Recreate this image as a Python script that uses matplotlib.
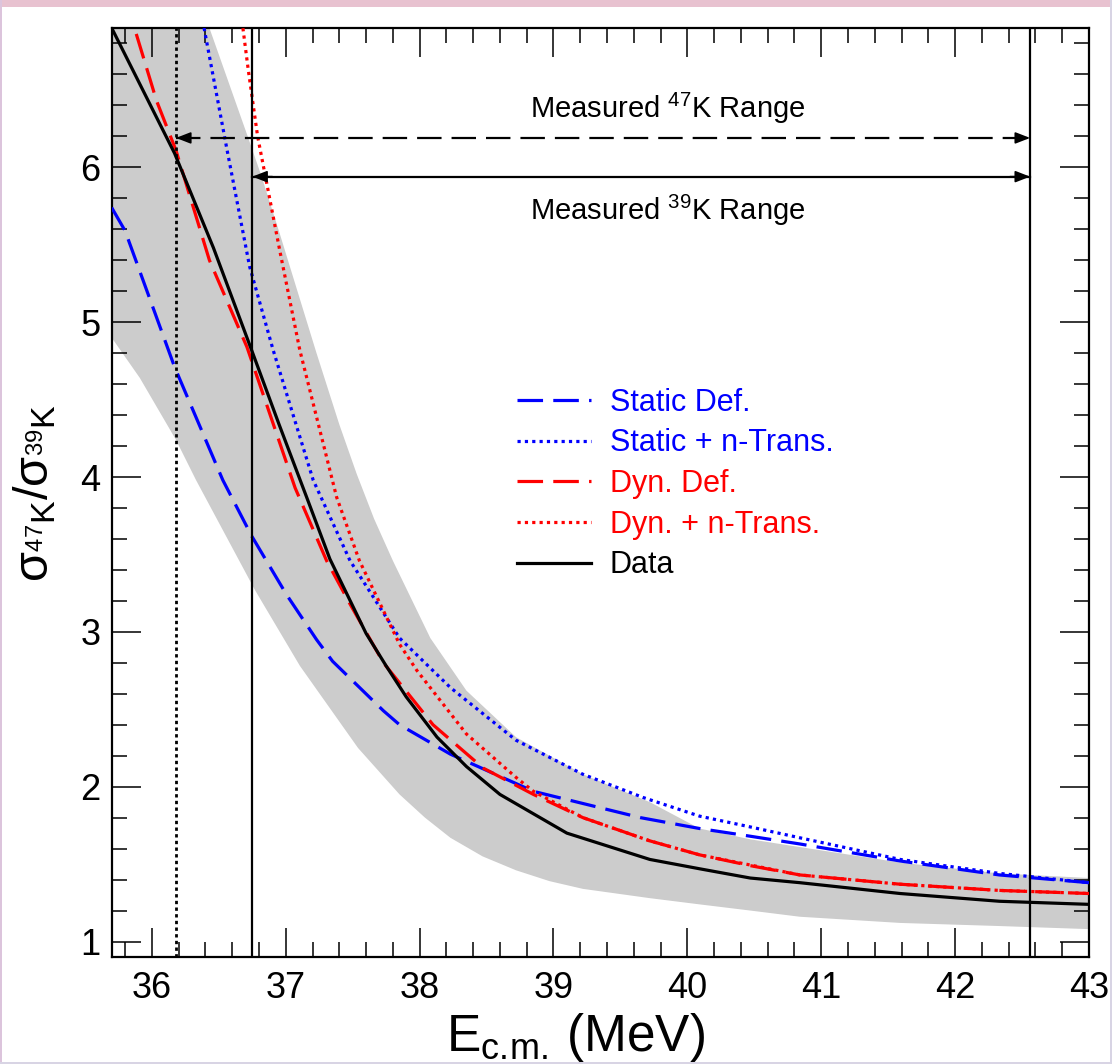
import matplotlib
matplotlib.use("Agg")
import matplotlib.pyplot as plt
import numpy as np
from matplotlib.patches import Rectangle

plt.rcParams['font.family'] = ['Liberation Sans', 'DejaVu Sans']
plt.rcParams['mathtext.fontset'] = 'custom'
plt.rcParams['mathtext.rm'] = 'Liberation Sans'
plt.rcParams['mathtext.it'] = 'Liberation Sans:italic'
plt.rcParams['mathtext.bf'] = 'Liberation Sans:bold'

# ---------------- data ----------------
data_x = [35.70, 36.17, 36.46, 36.745, 36.95, 37.156, 37.33, 37.60, 37.75, 37.90,
          38.13, 38.35, 38.60, 39.10, 39.72, 40.09, 40.47, 40.84, 41.59, 42.33, 43.0]
data_y = [6.90, 6.09, 5.48, 4.82, 4.34, 3.87, 3.47, 2.99, 2.78, 2.58,
          2.32, 2.13, 1.95, 1.70, 1.53, 1.47, 1.41, 1.38, 1.31, 1.26, 1.24]

band_hi_x = [35.70, 36.10, 36.43, 36.72, 36.82, 36.956, 37.23, 37.40, 37.53, 37.66, 37.80,
             38.08, 38.35, 38.72, 39.22, 39.72, 40.09, 40.47, 40.84, 41.59, 42.33, 43.0]
band_hi_y = [8.80, 7.75, 6.90, 6.19, 5.94, 5.57, 4.80, 4.34, 4.02, 3.73, 3.46,
             2.96, 2.62, 2.32, 2.08, 1.90, 1.73, 1.66, 1.61, 1.51, 1.44, 1.41]
band_lo_x = [35.70, 35.91, 36.18, 36.33, 36.77, 37.106, 37.54, 37.85, 38.04, 38.23, 38.47,
             38.72, 38.97, 39.22, 39.72, 40.09, 40.47, 40.84, 41.59, 42.33, 43.0]
band_lo_y = [4.90, 4.64, 4.24, 3.98, 3.27, 2.78, 2.25, 1.95, 1.80, 1.67, 1.55,
             1.46, 1.39, 1.34, 1.28, 1.24, 1.20, 1.16, 1.12, 1.10, 1.08]

static_x = [35.70, 35.80, 36.17, 36.53, 36.745, 37.006, 37.23, 37.35, 37.73, 37.85, 38.23,
            38.85, 39.65, 40.09, 40.47, 40.84, 41.59, 42.33, 43.0]
static_y = [5.74, 5.59, 4.71, 3.98, 3.62, 3.24, 2.95, 2.81, 2.49, 2.40, 2.21,
            1.97, 1.80, 1.73, 1.68, 1.63, 1.52, 1.43, 1.38]

static_nt_x = [36.33, 36.39, 36.56, 36.73, 36.906, 37.205, 37.48, 37.85, 38.23, 38.72,
               39.22, 39.67, 40.09, 40.47, 40.84, 41.59, 42.33, 43.0]
static_nt_y = [7.20, 6.90, 6.12, 5.36, 4.82, 3.98, 3.46, 2.96, 2.64, 2.30,
               2.08, 1.93, 1.81, 1.74, 1.67, 1.53, 1.44, 1.38]

dyn_x = [35.80, 35.87, 36.035, 36.18, 36.43, 36.71, 37.07, 37.305, 37.48, 37.73, 38.10,
         38.475, 38.85, 39.22, 39.72, 40.09, 40.47, 40.84, 41.59, 42.33, 43.0]
dyn_y = [7.20, 6.90, 6.43, 6.11, 5.40, 4.84, 3.93, 3.46, 3.18, 2.80, 2.40,
         2.12, 1.95, 1.80, 1.65, 1.56, 1.49, 1.43, 1.37, 1.33, 1.31]

dyn_nt_x = [36.64, 36.68, 36.72, 36.79, 36.956, 37.105, 37.38, 37.55, 37.85, 37.98,
            38.35, 38.72, 38.85, 39.22, 39.72, 40.09, 40.84, 41.59, 42.33, 43.0]
dyn_nt_y = [7.20, 6.90, 6.63, 6.20, 5.46, 4.82, 3.87, 3.46, 2.92, 2.75,
            2.34, 2.06, 1.97, 1.80, 1.65, 1.56, 1.43, 1.37, 1.33, 1.31]

thr_47 = 36.18     # dotted vertical line (47K range start)
thr_39 = 36.75     # solid vertical line (39K range start)
range_end = 42.56  # solid vertical line (range end)
y_arrow_47 = 6.19
y_arrow_39 = 5.94

labels = ["Static Def.", "Static + n-Trans.", "Dyn. Def.", "Dyn. + n-Trans.", "Data"]

# ---------------- figure ----------------
fig = plt.figure(figsize=(11.12, 10.64), dpi=100)
fig.patches.append(Rectangle((0, 1 - 7 / 1064), 1, 7 / 1064, transform=fig.transFigure,
                             facecolor='#e8c2d0', edgecolor='none', zorder=0))
fig.patches.append(Rectangle((0, 0), 2 / 1112, 1, transform=fig.transFigure,
                             facecolor='#dcc4dc', edgecolor='none', zorder=0))
fig.patches.append(Rectangle((0, 0), 1, 2 / 1064, transform=fig.transFigure,
                             facecolor='#d8d4e4', edgecolor='none', zorder=0))
fig.patches.append(Rectangle((1 - 2 / 1112, 0), 2 / 1112, 1, transform=fig.transFigure,
                             facecolor='#d8d4e4', edgecolor='none', zorder=0))

ax = fig.add_axes([111.7 / 1112, 1 - 957 / 1064, (1089 - 111.7) / 1112, (957 - 28) / 1064])
ax.set_xlim(35.7, 43.0)
ax.set_ylim(0.9, 6.9)

# band
poly_x = list(band_hi_x) + list(band_lo_x[::-1])
poly_y = list(band_hi_y) + list(band_lo_y[::-1])
ax.fill(poly_x, poly_y, color='#cccccc', lw=0, zorder=1)

lw = 2.3
dash = (8, 3.2)
dot = (1.0, 1.3)
common = dict(lw=lw, solid_joinstyle='round', dash_joinstyle='round')
l1, = ax.plot(static_x, static_y, color='#0000ff', dashes=dash, zorder=3, **common)
l2, = ax.plot(static_nt_x, static_nt_y, color='#0000ff', dashes=dot, zorder=3, **common)
l3, = ax.plot(dyn_x, dyn_y, color='#ff0000', dashes=dash, zorder=3, **common)
l4, = ax.plot(dyn_nt_x, dyn_nt_y, color='#ff0000', dashes=dot, zorder=3, **common)
l5, = ax.plot(data_x, data_y, color='black', zorder=4, **common)

# vertical lines
ax.axvline(thr_47, color='black', lw=2.0, dashes=(1.2, 1.2), zorder=5)
ax.axvline(thr_39, color='black', lw=1.6, zorder=5)
ax.axvline(range_end, color='black', lw=1.6, zorder=5)

# range arrows
ax.plot([thr_47, range_end], [y_arrow_47, y_arrow_47], color='black', lw=1.6,
        dashes=(11, 4.5), zorder=5)
ax.plot([thr_39, range_end], [y_arrow_39, y_arrow_39], color='black', lw=1.6, zorder=5)
ap = dict(arrowstyle='-|>,head_length=0.9,head_width=0.35', color='black', lw=1.2,
          shrinkA=0, shrinkB=0)
for (xa, xb, yy) in [(thr_47 + 0.15, thr_47, y_arrow_47), (range_end - 0.15, range_end, y_arrow_47),
                     (thr_39 + 0.15, thr_39, y_arrow_39), (range_end - 0.15, range_end, y_arrow_39)]:
    ax.annotate('', xy=(xb, yy), xytext=(xa, yy), arrowprops=ap, zorder=6)

ax.text(39.85, 6.38, r'Measured $^{47}$K Range', fontsize=21, ha='center', va='center')
ax.text(39.85, 5.72, r'Measured $^{39}$K Range', fontsize=21, ha='center', va='center')

# legend
leg = ax.legend([l1, l2, l3, l4, l5], labels, loc='upper left', bbox_to_anchor=(0.415, 0.613),
                frameon=False, fontsize=22, handlelength=2.42, handletextpad=0.6,
                labelspacing=0.35, borderpad=0, borderaxespad=0)
for txt, c in zip(leg.get_texts(), ['#0000ff', '#0000ff', '#ff0000', '#ff0000', 'black']):
    txt.set_color(c)

# axes styling
ax.set_xticks(np.arange(36, 44, 1))
ax.set_xticks(np.arange(35.8, 43.01, 0.2), minor=True)
ax.set_yticks(np.arange(1, 7, 1))
ax.set_yticks(np.arange(1.0, 6.9, 0.2), minor=True)
ax.tick_params(which='both', direction='in', top=True, right=True, width=1.1, color='black')
ax.tick_params(which='major', length=21, labelsize=26, pad=10)
ax.tick_params(which='minor', length=10.5)
ax.tick_params(axis='y', which='major', pad=8)
for s in ax.spines.values():
    s.set_linewidth(1.6)

ax.set_xlabel(r'E$_{\mathrm{c.\!m.\!}}$ (MeV)', fontsize=37)
ax.xaxis.set_label_coords(0.475, -0.058)
ax.set_ylabel(r'σ$_{^{47}\mathrm{K}}$/σ$_{^{39}\mathrm{K}}$', fontsize=35)
ax.yaxis.set_label_coords(-0.055, 0.5)

fig.savefig('out.png', dpi=100)
